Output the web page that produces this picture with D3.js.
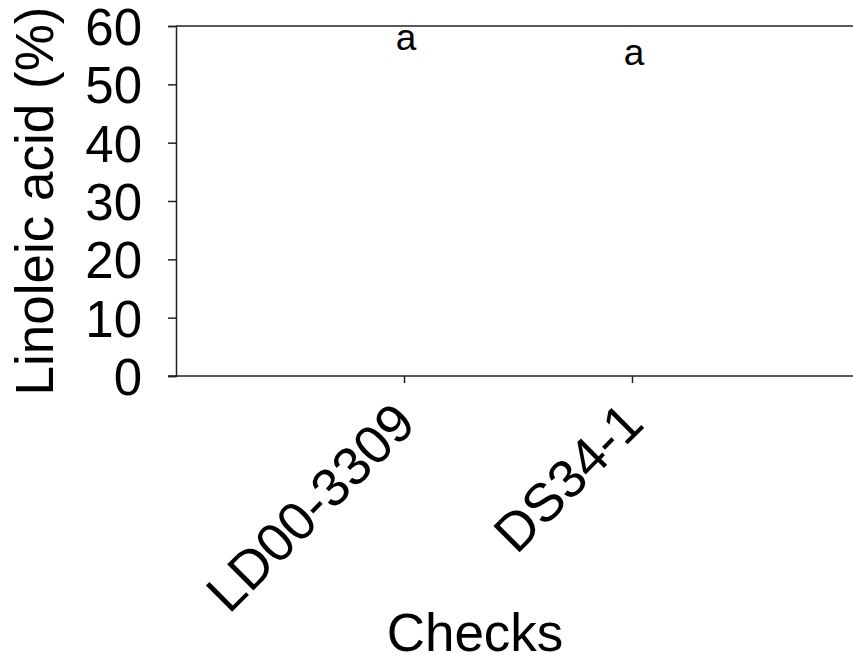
<!DOCTYPE html>
<html>
<head>
<meta charset="utf-8">
<script src="https://cdn.jsdelivr.net/npm/d3@7"></script>
<style>
  html, body { margin: 0; padding: 0; background: #fff; }
  svg { display: block; }
  text { font-family: "Liberation Sans", Arial, sans-serif; fill: #000; }
</style>
</head>
<body>
<svg id="chart" width="853" height="662"></svg>
<script>
// ---- data ----
const categories = ["LD00-3309", "DS34-1"];
const meanValues = [54.5, 51.9];
const letters = ["a", "a"];
const yTicks = [0, 10, 20, 30, 40, 50, 60];
const yTitle = "Linoleic acid (%)";
const xTitle = "Checks";

// ---- layout ----
const mLeft = 176, mRight = 860, mTop = 26, mBottom = 376;
const axisColor = "#222";

const svg = d3.select("#chart");

const x = d3.scalePoint().domain(categories).range([mLeft, mRight]).padding(1);
const y = d3.scaleLinear().domain([0, 60]).range([mBottom, mTop]);

// bars (white, as in reference)
svg.append("g").selectAll("rect").data(categories).join("rect")
  .attr("x", (d) => x(d) - 40)
  .attr("width", 80)
  .attr("y", (d, i) => y(meanValues[i]))
  .attr("height", (d, i) => mBottom - y(meanValues[i]))
  .attr("fill", "#fff");

// top border
svg.append("line")
  .attr("x1", mLeft).attr("x2", mRight)
  .attr("y1", y(60)).attr("y2", y(60))
  .attr("stroke", axisColor).attr("stroke-width", 1.5);

// y axis
const gy = svg.append("g").attr("transform", `translate(${mLeft},0)`)
  .call(d3.axisLeft(y).tickValues(yTicks).tickSize(8).tickPadding(26).tickFormat(d3.format("d")));
gy.select(".domain").attr("stroke", axisColor).attr("stroke-width", 1.5);
gy.selectAll(".tick line").attr("stroke", axisColor).attr("stroke-width", 1.5);
gy.selectAll(".tick text")
  .style("font-family", '"Liberation Sans", Arial, sans-serif')
  .style("font-size", "51px").attr("fill", "#000").attr("dy", "0.36em");

// x axis
const gx = svg.append("g").attr("transform", `translate(0,${mBottom})`)
  .call(d3.axisBottom(x).tickSize(7).tickSizeOuter(0).tickFormat(""));
gx.select(".domain").remove();
gx.selectAll(".tick line").attr("stroke", axisColor).attr("stroke-width", 1.5);
svg.append("line")
  .attr("x1", mLeft - 8).attr("x2", mRight)
  .attr("y1", mBottom).attr("y2", mBottom)
  .attr("stroke", axisColor).attr("stroke-width", 1.5);

// category labels, rotated
svg.append("g").selectAll("text").data(categories).join("text")
  .attr("transform", (d) => `translate(${x(d) + 14},${mBottom + 50}) rotate(-45)`)
  .attr("text-anchor", "end")
  .style("font-size", "54px")
  .text((d) => d);

// significance letters
svg.append("g").selectAll("text").data(categories).join("text")
  .attr("x", (d) => x(d) + 2)
  .attr("y", (d, i) => y(meanValues[i]) - 8)
  .attr("text-anchor", "middle")
  .style("font-size", "37px")
  .text((d, i) => letters[i]);

// axis titles
svg.append("text")
  .attr("transform", `translate(53,${(mTop + mBottom) / 2}) rotate(-90)`)
  .attr("text-anchor", "middle")
  .style("font-size", "53px")
  .text(yTitle);

svg.append("text")
  .attr("x", 475).attr("y", 651)
  .attr("text-anchor", "middle")
  .style("font-size", "53px")
  .text(xTitle);
</script>
</body>
</html>
